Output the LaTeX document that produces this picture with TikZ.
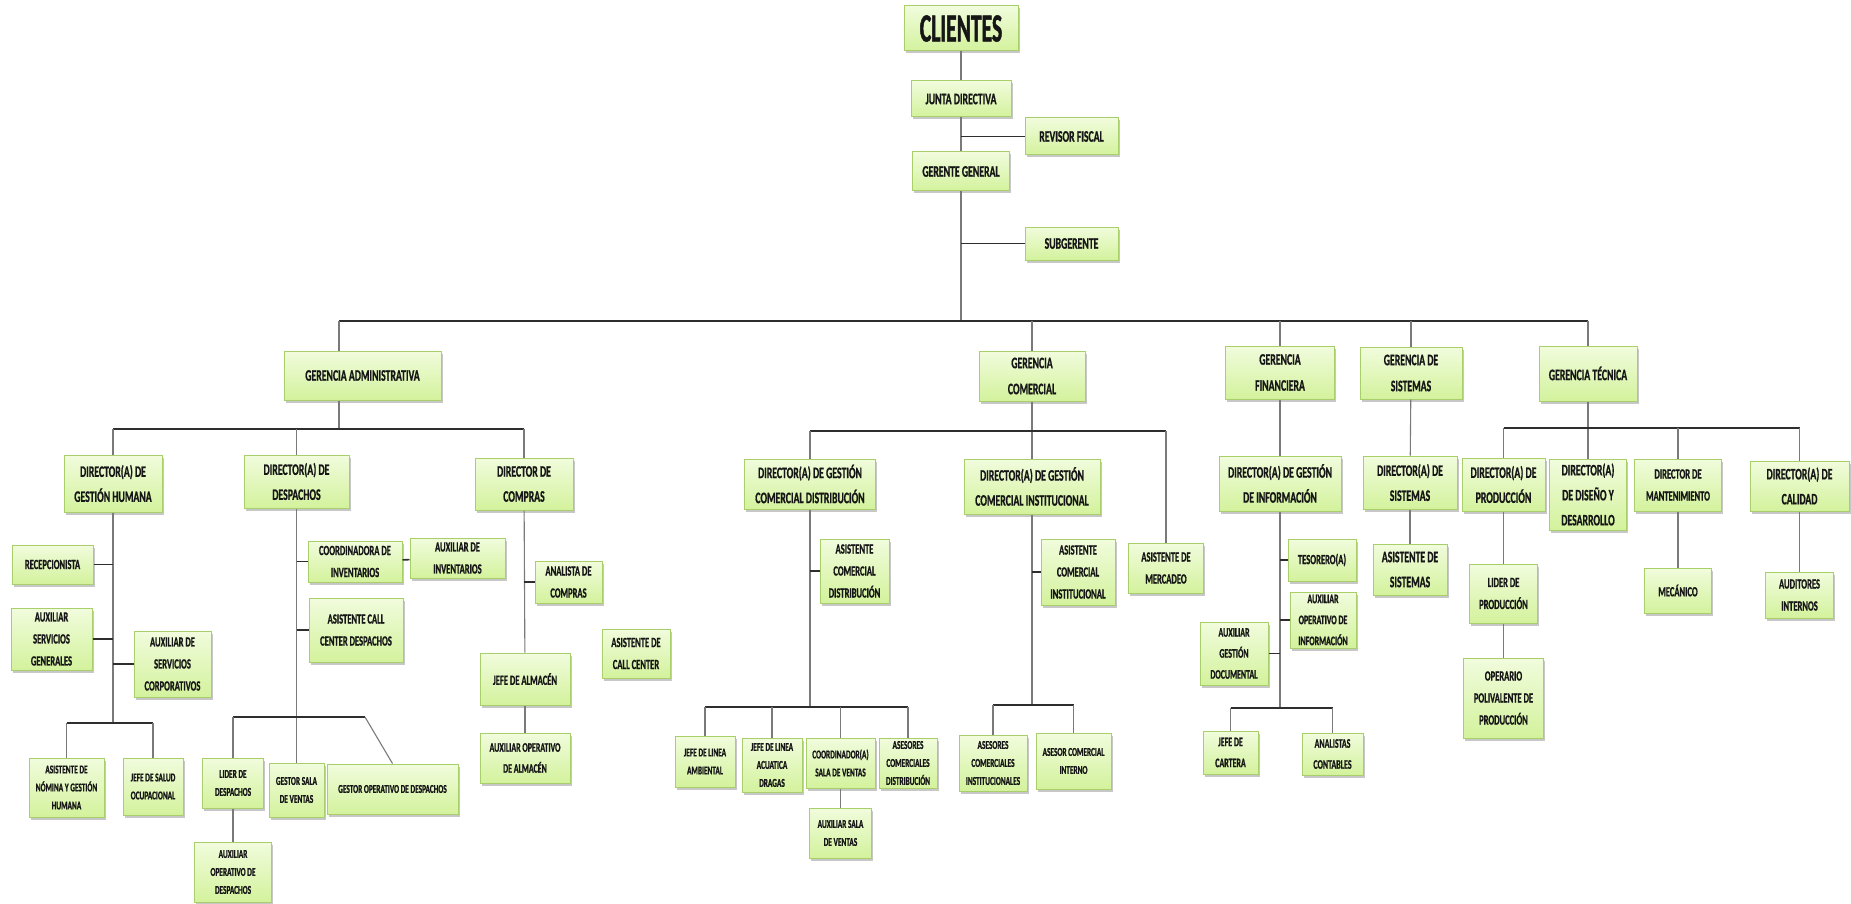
\documentclass[tikz,border=0pt]{standalone}
\usepackage{fontspec}
\newfontfamily\orgfont{Carlito}[FakeStretch=0.61, FakeBold=0.9]
\newfontfamily\bigorgfont{Carlito}[FakeStretch=0.54, FakeBold=1.2]
\usetikzlibrary{shadows}

\newcommand\orgsize[2]{\fontsize{#1}{#2}\selectfont}

\definecolor{boxtop}{HTML}{F1FCDD}
\definecolor{boxbot}{HTML}{D3F29C}
\definecolor{boxline}{HTML}{A9CF6B}
\definecolor{boxtext}{HTML}{161616}
\definecolor{wire}{HTML}{7A7A7A}
\definecolor{busline}{HTML}{2E2E2E}

\tikzset{
	orgbox/.style={draw=boxline, line width=1pt, top color=boxtop, bottom color=boxbot,
		drop shadow={shadow xshift=1.5pt, shadow yshift=-2.5pt, opacity=.4, fill=black!55},
		align=center, inner sep=1pt, text=boxtext},
	wh/.style 2 args={minimum width=#1, minimum height=#2},
	clientbox/.style={orgbox, font=\bigorgfont\bfseries\orgsize{40}{44}},
	headbox/.style={orgbox, font=\orgfont\bfseries\orgsize{16}{19}},
	gerbox/.style={orgbox, font=\orgfont\bfseries\orgsize{16}{26}},
	dirbox/.style={orgbox, font=\orgfont\bfseries\orgsize{16}{25}},
	staffbox/.style={orgbox, font=\orgfont\bfseries\orgsize{14}{22}},
	smallbox/.style={orgbox, font=\orgfont\bfseries\orgsize{13}{21}},
	tinybox/.style={orgbox, font=\orgfont\bfseries\orgsize{12}{18}},
	link/.style={draw=wire, line width=1.1pt},
	tie/.style={draw=busline, line width=1.6pt},
	bus/.style={draw=busline, line width=1.8pt},
}

\begin{document}
\begin{tikzpicture}[x=1pt,y=-1pt]
	\path[fill=white, use as bounding box] (0,0) rectangle (1851,904);
	
	% top of the chart
	\node[clientbox, wh={114}{45}] (clientes) at (961,28.5) {CLIENTES};
	\node[headbox, wh={100}{36}] (junta) at (961,99) {JUNTA DIRECTIVA};
	\node[headbox, wh={93}{37}] (revisor) at (1071.5,136.5) {REVISOR FISCAL};
	\node[headbox, wh={97}{39}] (gerente) at (961,171.5) {GERENTE GENERAL};
	\node[headbox, wh={93}{33}] (subgerente) at (1071.5,243.5) {SUBGERENTE};
	
	% gerencias
	\node[gerbox, wh={157}{49}] (ger adm) at (362.5,375.5) {GERENCIA ADMINISTRATIVA};
	\node[gerbox, wh={106}{50}] (ger com) at (1032,376) {GERENCIA\\COMERCIAL};
	\node[gerbox, wh={109}{53}] (ger fin) at (1280,372.5) {GERENCIA\\FINANCIERA};
	\node[gerbox, wh={102}{52}] (ger sis) at (1411,373) {GERENCIA DE\\SISTEMAS};
	\node[gerbox, wh={98}{55}] (ger tec) at (1588,373.5) {GERENCIA TÉCNICA};
	
	% administrativa
	\node[dirbox, wh={98}{57}] (dir gh) at (113,483.5) {DIRECTOR(A) DE\\GESTIÓN HUMANA};
	\node[dirbox, wh={105}{53}] (dir des) at (296.5,481.5) {DIRECTOR(A) DE\\DESPACHOS};
	\node[dirbox, wh={98}{52}] (dir cmp) at (524,484) {DIRECTOR DE\\COMPRAS};
	
	\node[staffbox, wh={81}{39}] (recep) at (52.5,564.5) {RECEPCIONISTA};
	\node[staffbox, wh={81}{62}] (auxsg) at (51.5,639) {AUXILIAR\\SERVICIOS\\GENERALES};
	\node[staffbox, wh={77}{66}] (auxsc) at (172.5,664) {AUXILIAR DE\\SERVICIOS\\CORPORATIVOS};
	\node[tinybox, wh={75}{59}] (nomina) at (66.5,787.5) {ASISTENTE DE\\NÓMINA Y GESTIÓN\\HUMANA};
	\node[tinybox, wh={60}{57}] (salud) at (153,786.5) {JEFE DE SALUD\\OCUPACIONAL};
	
	\node[staffbox, wh={94}{41}] (coordinv) at (355,561.5) {COORDINADORA DE\\INVENTARIOS};
	\node[staffbox, wh={95}{40}] (auxinv) at (457.5,558) {AUXILIAR DE\\INVENTARIOS};
	\node[staffbox, wh={94}{64}] (callc) at (356,630) {ASISTENTE CALL\\CENTER DESPACHOS};
	\node[tinybox, wh={61}{50}] (lider) at (233,783) {LIDER DE\\DESPACHOS};
	\node[tinybox, wh={55}{54}] (gsala) at (296.5,790) {GESTOR SALA\\DE VENTAS};
	\node[tinybox, wh={131}{50}] (gope) at (392.5,789) {GESTOR OPERATIVO DE DESPACHOS};
	\node[tinybox, wh={77}{60}] (auxopd) at (233,872) {AUXILIAR\\OPERATIVO DE\\DESPACHOS};
	
	\node[staffbox, wh={67}{42}] (anal) at (568.5,582) {ANALISTA DE\\COMPRAS};
	\node[staffbox, wh={90}{52}] (jalm) at (525,679) {JEFE DE ALMACÉN};
	\node[smallbox, wh={90}{50}] (auxalm) at (525,758) {AUXILIAR OPERATIVO\\DE ALMACÉN};
	\node[staffbox, wh={68}{49}] (asiscc) at (636,653.5) {ASISTENTE DE\\CALL CENTER};
	
	% comercial
	\node[dirbox, wh={131}{50}] (dir dist) at (810,484) {DIRECTOR(A) DE GESTIÓN\\COMERCIAL DISTRIBUCIÓN};
	\node[dirbox, wh={136}{55}] (dir inst) at (1032,486.5) {DIRECTOR(A) DE GESTIÓN\\COMERCIAL INSTITUCIONAL};
	\node[staffbox, wh={75}{50}] (merc) at (1166,568) {ASISTENTE DE\\MERCADEO};
	
	\node[staffbox, wh={69}{64}] (ascd) at (854.5,571) {ASISTENTE\\COMERCIAL\\DISTRIBUCIÓN};
	\node[tinybox, wh={60}{51}] (jla) at (705,761.5) {JEFE DE LINEA\\AMBIENTAL};
	\node[tinybox, wh={60}{54}] (jlad) at (772,765) {JEFE DE LINEA\\ACUATICA\\DRAGAS};
	\node[tinybox, wh={69}{50}] (csv) at (840.5,763) {COORDINADOR(A)\\SALA DE VENTAS};
	\node[tinybox, wh={58}{50}] (acd) at (908,763) {ASESORES\\COMERCIALES\\DISTRIBUCIÓN};
	\node[tinybox, wh={62}{50}] (asv) at (840.5,833) {AUXILIAR SALA\\DE VENTAS};
	
	\node[staffbox, wh={74}{66}] (asci) at (1078,572) {ASISTENTE\\COMERCIAL\\INSTITUCIONAL};
	\node[tinybox, wh={68}{56}] (aci) at (993,763) {ASESORES\\COMERCIALES\\INSTITUCIONALES};
	\node[tinybox, wh={75}{56}] (aciint) at (1073.5,761) {ASESOR COMERCIAL\\INTERNO};
	
	% financiera
	\node[dirbox, wh={122}{55}] (dir info) at (1280,483.5) {DIRECTOR(A) DE GESTIÓN\\DE INFORMACIÓN};
	\node[staffbox, wh={68}{42}] (tes) at (1322,560) {TESORERO(A)};
	\node[smallbox, wh={66}{56}] (auxoi) at (1323,620) {AUXILIAR\\OPERATIVO DE\\INFORMACIÓN};
	\node[smallbox, wh={68}{63}] (auxgd) at (1234,653.5) {AUXILIAR\\GESTIÓN\\DOCUMENTAL};
	\node[smallbox, wh={55}{43}] (jcart) at (1230.5,752.5) {JEFE DE\\CARTERA};
	\node[smallbox, wh={61}{42}] (acont) at (1332.5,754) {ANALISTAS\\CONTABLES};
	
	% sistemas
	\node[dirbox, wh={94}{53}] (dir sis) at (1410,482.5) {DIRECTOR(A) DE\\SISTEMAS};
	\node[dirbox, wh={74}{51}] (asis sis) at (1410,569.5) {ASISTENTE DE\\SISTEMAS};
	
	% tecnica
	\node[dirbox, wh={83}{53}] (dir prod) at (1503.5,484.5) {DIRECTOR(A) DE\\PRODUCCIÓN};
	\node[dirbox, wh={77}{71}] (dir dis) at (1588,494.5) {DIRECTOR(A)\\DE DISEÑO Y\\DESARROLLO};
	\node[staffbox, wh={87}{52}] (dir mant) at (1678,485) {DIRECTOR DE\\MANTENIMIENTO};
	\node[dirbox, wh={99}{50}] (dir cal) at (1799.5,486) {DIRECTOR(A) DE\\CALIDAD};
	\node[staffbox, wh={68}{59}] (lprod) at (1503.5,593.5) {LIDER DE\\PRODUCCIÓN};
	\node[staffbox, wh={80}{80}] (opp) at (1503.5,698) {OPERARIO\\POLIVALENTE DE\\PRODUCCIÓN};
	\node[staffbox, wh={67}{45}] (mec) at (1678,590.5) {MECÁNICO};
	\node[staffbox, wh={68}{46}] (audi) at (1799.5,595) {AUDITORES\\INTERNOS};
	
	% bus points
	\coordinate (top bus w) at (339,321);
	\coordinate (top bus e) at (1588,321);
	\coordinate (adm bus w) at (113,429);
	\coordinate (adm bus e) at (524,429);
	\coordinate (gh bus w) at (66.5,723);
	\coordinate (gh bus e) at (153,723);
	\coordinate (des bus w) at (233,717);
	\coordinate (des bus e) at (365,717);
	\coordinate (com bus w) at (810,431);
	\coordinate (com bus e) at (1166,431);
	\coordinate (dist bus w) at (705,707);
	\coordinate (dist bus e) at (908,707);
	\coordinate (inst bus w) at (993,705);
	\coordinate (inst bus e) at (1073.5,705);
	\coordinate (fin bus w) at (1230.5,708);
	\coordinate (fin bus e) at (1332.5,708);
	\coordinate (tec bus w) at (1503.5,428);
	\coordinate (tec bus e) at (1799.5,428);
	
	% spine
	\draw[link] (clientes) -- (junta);
	\draw[link] (junta) -- (gerente);
	\draw[link] (gerente) -- (gerente |- top bus w);
	\draw[tie] (junta.south |- revisor) -- (revisor);
	\draw[tie] (gerente.south |- subgerente) -- (subgerente);
	\draw[bus] (top bus w) -- (top bus e);
	\draw[link] (top bus w) -- (top bus w |- ger adm.north);
	\foreach \g in {ger com, ger fin, ger sis, ger tec}
		\draw[link] (\g |- top bus w) -- (\g);
	
	% administrativa
	\draw[link] (top bus w |- ger adm.south) -- (top bus w |- adm bus w);
	\draw[bus] (adm bus w) -- (adm bus e);
	\foreach \d in {dir gh, dir des, dir cmp}
		\draw[link] (\d |- adm bus w) -- (\d);
	
	\draw[link] (dir gh) -- (dir gh |- gh bus w);
	\draw[tie] (recep) -- (recep -| dir gh);
	\draw[tie] (auxsg) -- (auxsg -| dir gh);
	\draw[tie] (auxsc) -- (auxsc -| dir gh);
	\draw[bus] (gh bus w) -- (gh bus e);
	\draw[link] (gh bus w) -- (nomina);
	\draw[link] (gh bus e) -- (salud);
	
	\draw[link] (dir des) -- (gsala);
	\draw[tie] (coordinv -| dir des) -- (coordinv);
	\draw[tie] (coordinv) -- (auxinv);
	\draw[tie] (callc -| dir des) -- (callc);
	\draw[bus] (des bus w) -- (des bus e);
	\draw[link] (des bus w) -- (lider);
	\draw[link] (des bus e) -- (gope.north);
	\draw[link] (lider) -- (auxopd);
	
	\draw[link] (dir cmp) -- (jalm);
	\draw[link] (jalm) -- (auxalm);
	\draw[tie] (anal -| dir cmp) -- (anal);
	
	% comercial
	\draw[link] (ger com) -- (dir inst);
	\draw[bus] (com bus w) -- (com bus e);
	\draw[link] (com bus w) -- (dir dist);
	\draw[link] (com bus e) -- (merc);
	
	\draw[link] (dir dist) -- (dir dist |- dist bus w);
	\draw[tie] (ascd -| dir dist) -- (ascd);
	\draw[bus] (dist bus w) -- (dist bus e);
	\foreach \n in {jla, jlad, csv, acd}
		\draw[link] (\n |- dist bus w) -- (\n);
	\draw[link] (csv) -- (asv);
	
	\draw[link] (dir inst) -- (dir inst |- inst bus w);
	\draw[tie] (asci -| dir inst) -- (asci);
	\draw[bus] (inst bus w) -- (inst bus e);
	\draw[link] (inst bus w) -- (aci);
	\draw[link] (inst bus e) -- (aciint);
	
	% financiera
	\draw[link] (ger fin) -- (dir info);
	\draw[link] (dir info) -- (dir info |- fin bus w);
	\draw[tie] (tes -| dir info) -- (tes);
	\draw[tie] (auxoi -| dir info) -- (auxoi);
	\draw[tie] (auxgd -| dir info) -- (auxgd);
	\draw[bus] (fin bus w) -- (fin bus e);
	\draw[link] (fin bus w) -- (jcart);
	\draw[link] (fin bus e) -- (acont);
	
	% sistemas
	\draw[link] (ger sis) -- (dir sis);
	\draw[link] (dir sis) -- (asis sis);
	
	% tecnica
	\draw[link] (ger tec) -- (dir dis);
	\draw[bus] (tec bus w) -- (tec bus e);
	\foreach \n in {dir prod, dir mant, dir cal}
		\draw[link] (\n |- tec bus w) -- (\n);
	\draw[link] (dir prod) -- (lprod);
	\draw[link] (lprod) -- (opp);
	\draw[link] (dir mant) -- (mec);
	\draw[link] (dir cal) -- (audi);
	
\end{tikzpicture}
\end{document}
